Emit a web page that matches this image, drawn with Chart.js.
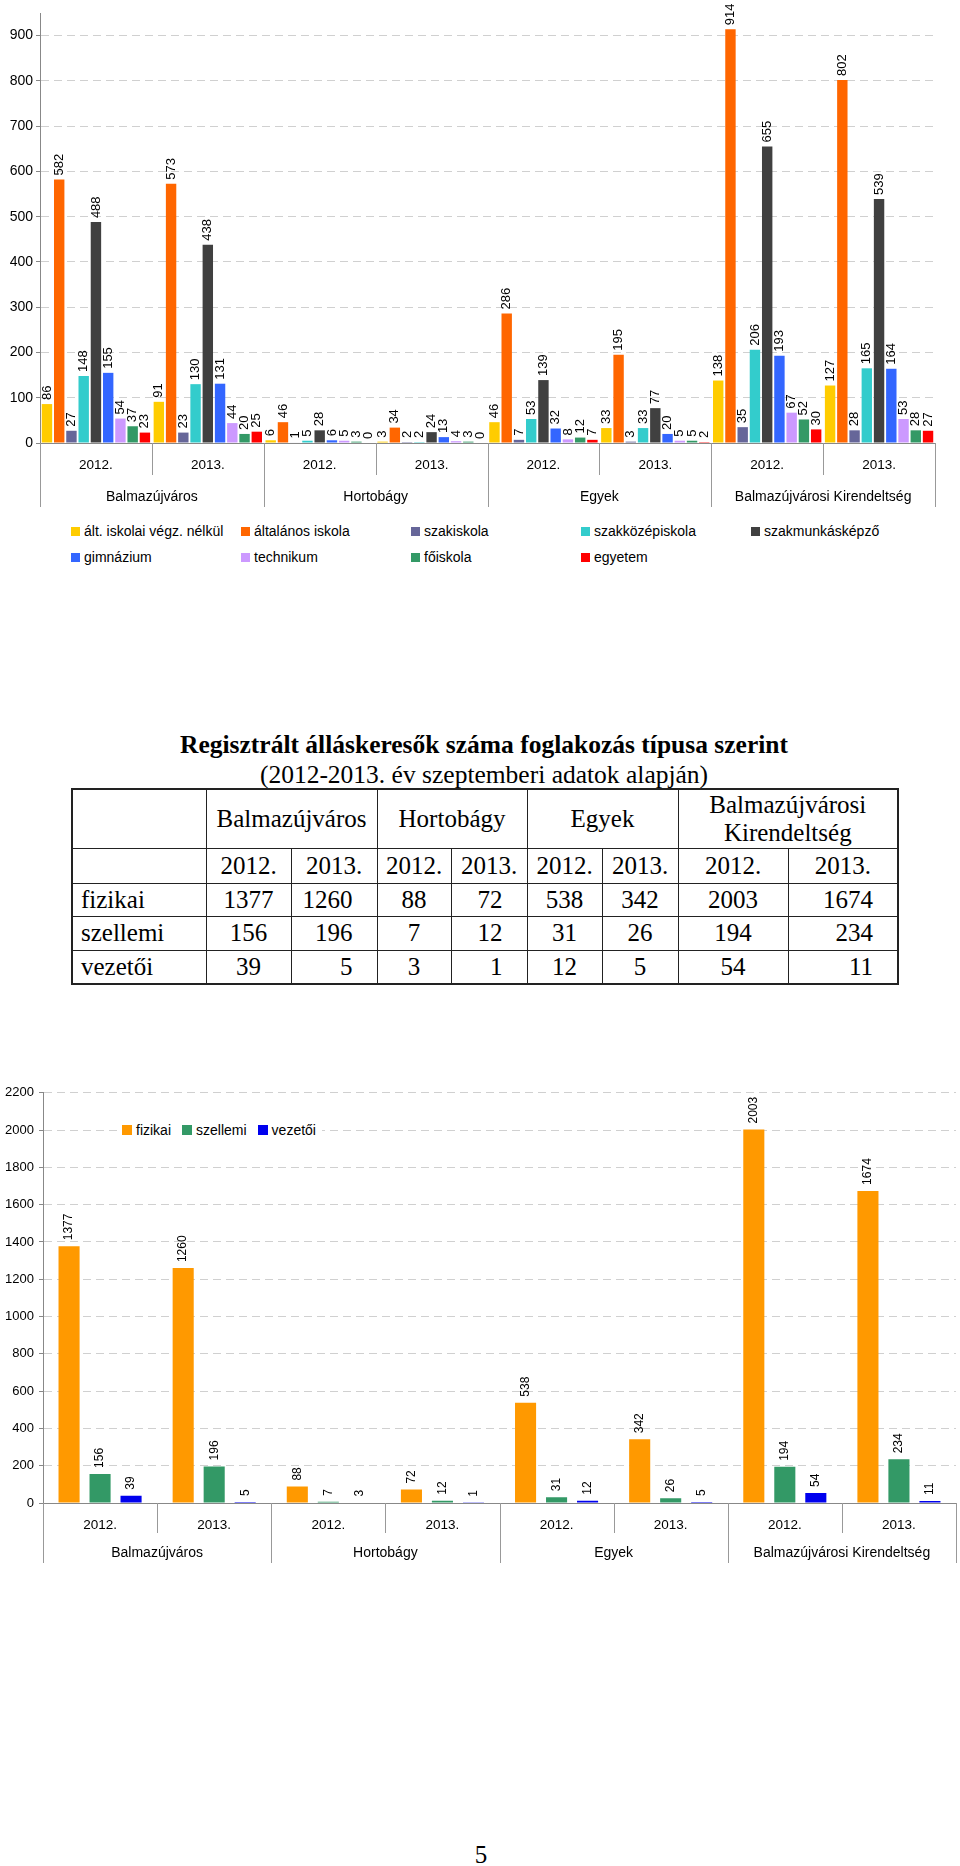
<!DOCTYPE html>
<html lang="hu">
<head>
<meta charset="utf-8">
<title>Álláskeresők</title>
<script src="https://cdn.jsdelivr.net/npm/chart.js@4.4.1/dist/chart.umd.min.js"></script>
<style>
  body { margin: 0; width: 960px; height: 1866px; position: relative; background: #fff; overflow: hidden;
         font-family: Arial, "Liberation Sans", sans-serif; color: #000; }
  canvas { position: absolute; left: 0; }
  #c1 { top: 0; }
  #c2 { top: 1080px; }
  .legend1 { position: absolute; top: 518px; left: 71px; display: grid; grid-template-columns: repeat(5, 170px);
             grid-auto-rows: 26px; font-size: 14px; align-items: center; }
  .legend2 { position: absolute; top: 1119px; left: 118px; background: #fff; padding: 0 6px 0 4px; height: 22px;
             display: flex; align-items: center; font-size: 14px; }
  .legend2 span.item { margin-right: 11px; }
  .legend2 span.item:last-child { margin-right: 0; }
  .sw { display: inline-block; width: 9px; height: 9px; margin-right: 4px; vertical-align: middle; position: relative; top: -1px; }
  .legend2 .sw { width: 10px; height: 10px; }
  .serif { font-family: "Times New Roman", "Liberation Serif", serif; }
  .title { position: absolute; left: 71px; width: 826px; text-align: center; top: 730px; line-height: 30px; font-size: 25.5px; font-weight: bold; }
  .subtitle { position: absolute; left: 71px; width: 826px; text-align: center; top: 760px; line-height: 30px; font-size: 25.5px; }
  table { position: absolute; top: 788px; left: 71px; width: 826px; border-collapse: collapse; table-layout: fixed;
          font-size: 25px; border: 2px solid #222; }
  td { border: 1px solid #222; padding: 0; text-align: center; vertical-align: middle; line-height: 28px; }
  td.lab { text-align: left; padding-left: 8px; }
  td.r { text-align: right; padding-right: 24px; }
  .page { position: absolute; top: 1840px; left: 0; width: 962px; text-align: center; font-size: 25px; line-height: 30px; }
</style>
</head>
<body>
<canvas id="c1" width="960" height="515"></canvas>
<div class="legend1" id="legend1"></div>

<div class="serif title">Regisztrált álláskeresők száma foglakozás típusa szerint</div>
<div class="serif subtitle">(2012-2013. év szeptemberi adatok alapján)</div>
<table class="serif" id="tbl"></table>

<canvas id="c2" width="960" height="490"></canvas>
<div class="legend2" id="legend2"></div>

<div class="serif page">5</div>

<script>
// categories (two-level axis)
const categories = ["2012.", "2013.", "2012.", "2013.", "2012.", "2013.", "2012.", "2013."];
const groups = ["Balmazújváros", "Hortobágy", "Egyek", "Balmazújvárosi Kirendeltség"];

// chart 1: education level
const altIskolaiNelkul = [86, 91, 6, 3, 46, 33, 138, 127];
const altalanosIskola = [582, 573, 46, 34, 286, 195, 914, 802];
const szakiskola = [27, 23, 1, 2, 7, 3, 35, 28];
const szakkozepiskola = [148, 130, 5, 2, 53, 33, 206, 165];
const szakmunkaskepzo = [488, 438, 28, 24, 139, 77, 655, 539];
const gimnazium = [155, 131, 6, 13, 32, 20, 193, 164];
const technikum = [54, 44, 5, 4, 8, 5, 67, 53];
const foiskola = [37, 20, 3, 3, 12, 5, 52, 28];
const egyetem = [23, 25, 0, 0, 7, 2, 30, 27];

// chart 2 + table: occupation type
const fizikai = [1377, 1260, 88, 72, 538, 342, 2003, 1674];
const szellemi = [156, 196, 7, 12, 31, 26, 194, 234];
const vezetoi = [39, 5, 3, 1, 12, 5, 54, 11];

const FONT = 'Arial, "Liberation Sans", sans-serif';
Chart.defaults.font.family = FONT;
Chart.defaults.color = "#000";

const series1 = [
  { label: "ált. iskolai végz. nélkül", data: altIskolaiNelkul, color: "#FFCC00" },
  { label: "általános iskola", data: altalanosIskola, color: "#FF6600" },
  { label: "szakiskola", data: szakiskola, color: "#666699" },
  { label: "szakközépiskola", data: szakkozepiskola, color: "#33CCCC" },
  { label: "szakmunkásképző", data: szakmunkaskepzo, color: "#404040" },
  { label: "gimnázium", data: gimnazium, color: "#3366FF" },
  { label: "technikum", data: technikum, color: "#CC99FF" },
  { label: "főiskola", data: foiskola, color: "#339966" },
  { label: "egyetem", data: egyetem, color: "#FF0000" },
];
const series2 = [
  { label: "fizikai", data: fizikai, color: "#FF9900" },
  { label: "szellemi", data: szellemi, color: "#339966" },
  { label: "vezetői", data: vezetoi, color: "#0000EE" },
];

// rotated value labels above each bar
const valueLabels = {
  id: "valueLabels",
  afterDatasetsDraw(chart, args, opts) {
    const ctx = chart.ctx;
    ctx.save();
    ctx.font = opts.size + "px " + FONT;
    ctx.fillStyle = "#000";
    ctx.textAlign = "left";
    ctx.textBaseline = "middle";
    chart.data.datasets.forEach((ds, i) => {
      chart.getDatasetMeta(i).data.forEach((bar, j) => {
        ctx.save();
        ctx.translate(bar.x, bar.y - opts.gap);
        ctx.rotate(-Math.PI / 2);
        ctx.fillText(String(ds.data[j]), 0, 0);
        ctx.restore();
      });
    });
    ctx.restore();
  },
};

// separators + group labels under the year labels
const groupAxis = {
  id: "groupAxis",
  afterDraw(chart, args, opts) {
    const x = chart.scales.x, ctx = chart.ctx;
    const n = categories.length, w = x.width / n;
    ctx.save();
    ctx.strokeStyle = "#999";
    ctx.lineWidth = 1;
    for (let i = 0; i <= n; i++) {
      const px = Math.round(x.left + i * w) + 0.5;
      const len = i % 2 === 0 ? opts.outer : opts.inner;
      ctx.beginPath();
      ctx.moveTo(px, x.top);
      ctx.lineTo(px, x.top + len);
      ctx.stroke();
    }
    ctx.font = "14px " + FONT;
    ctx.fillStyle = "#000";
    ctx.textAlign = "center";
    ctx.textBaseline = "middle";
    groups.forEach((g, k) => ctx.fillText(g, x.left + (2 * k + 1) * w, x.top + opts.labelY));
    ctx.restore();
  },
};

function makeChart(id, series, o) {
  return new Chart(document.getElementById(id), {
    type: "bar",
    data: {
      labels: categories,
      datasets: series.map(s => ({
        label: s.label,
        data: s.data,
        backgroundColor: s.color,
        borderWidth: 0,
        categoryPercentage: o.catPct,
        barPercentage: o.barPct,
      })),
    },
    plugins: [valueLabels, groupAxis],
    options: {
      responsive: false,
      animation: false,
      layout: { padding: o.padding },
      scales: {
        x: {
          grid: { display: false, drawTicks: false },
          border: { display: true, color: "#888" },
          ticks: { font: { size: 13.5 }, padding: o.xPad, maxRotation: 0 },
          afterFit: s => { s.height = o.xHeight; },
        },
        y: {
          min: 0,
          max: o.max,
          grid: { color: "#d0d0d0", tickColor: "#888", tickLength: 4, tickBorderDash: [] },
          border: { display: true, color: "#888", dash: [8, 5] },
          ticks: {
            stepSize: o.step,
            includeBounds: false,
            font: { size: o.yFont },
            padding: o.yPad,
            callback: v => String(v),
          },
          afterFit: s => { s.width = o.yWidth; },
        },
      },
      plugins: {
        legend: { display: false },
        tooltip: { enabled: false },
        valueLabels: { size: o.labelSize, gap: o.gap },
        groupAxis: o.groupAxis,
      },
    },
  });
}

makeChart("c1", series1, {
  catPct: 0.985, barPct: 0.85, max: 950, step: 100,
  padding: { top: 13, right: 25, left: 0, bottom: 0 },
  xHeight: 72, xPad: 14, yWidth: 40, yFont: 14, yPad: 3,
  labelSize: 13, gap: 4,
  groupAxis: { inner: 32, outer: 64, labelY: 54 },
});

makeChart("c2", series2, {
  catPct: 0.815, barPct: 0.68, max: 2200, step: 200,
  padding: { top: 12, right: 4, left: 0, bottom: 0 },
  xHeight: 67, xPad: 14, yWidth: 43, yFont: 13, yPad: 5,
  labelSize: 12, gap: 6,
  groupAxis: { inner: 30, outer: 60, labelY: 50 },
});

// html legends
function swatchItem(s) {
  return '<span class="item"><span class="sw" style="background:' + s.color + '"></span>' + s.label + "</span>";
}
document.getElementById("legend1").innerHTML = series1.map(swatchItem).join("");
document.getElementById("legend2").innerHTML = series2.map(swatchItem).join("");

// table from the same arrays
const colWidths = [134, 85, 86, 74, 76, 75, 76, 110, 110];
const rightCols = [1, 3, 7]; // 2013 columns that sit right in the source table
let html = "<colgroup>" + colWidths.map(w => '<col style="width:' + w + 'px">').join("") + "</colgroup>";
html += '<tr style="height:59px"><td></td>' +
  groups.map((g, k) => '<td colspan="2">' + (k === 3 ? "Balmazújvárosi<br>Kirendeltség" : g) + "</td>").join("") + "</tr>";
html += '<tr style="height:35px"><td></td>' + categories.map(c => "<td>" + c + "</td>").join("") + "</tr>";
[["fizikai", fizikai, 33], ["szellemi", szellemi, 34], ["vezetői", vezetoi, 34]].forEach(([name, vals, h]) => {
  html += '<tr style="height:' + h + 'px"><td class="lab">' + name + "</td>" +
    vals.map((v, i) => '<td' + (rightCols.includes(i) ? ' class="r"' : "") + ">" + v + "</td>").join("") + "</tr>";
});
document.getElementById("tbl").innerHTML = html;
</script>
</body>
</html>
